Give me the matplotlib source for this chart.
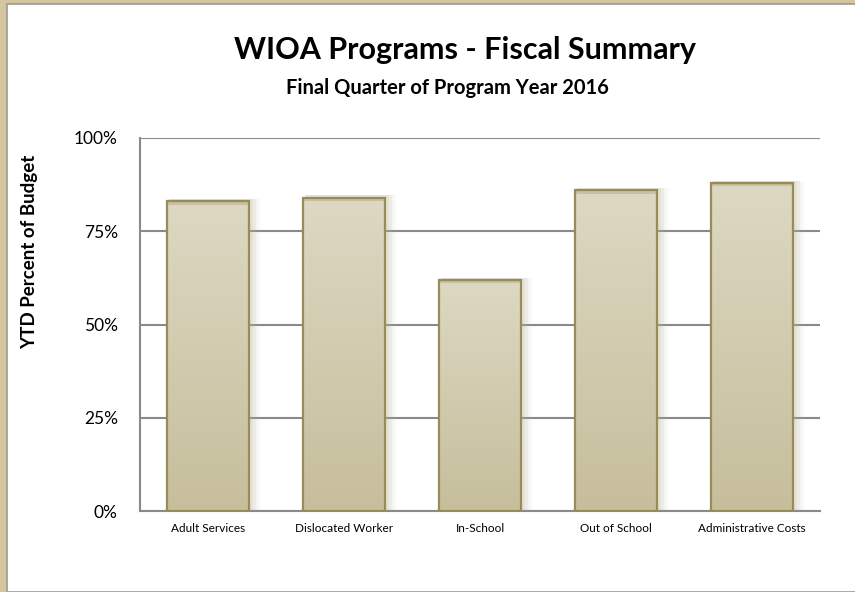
import numpy as np
import matplotlib
matplotlib.use('Agg')
import matplotlib.pyplot as plt
from matplotlib.patches import Rectangle
from matplotlib.colors import LinearSegmentedColormap

# chart data
programs = ['Adult Services', 'Dislocated Worker', 'In-School',
            'Out of School', 'Administrative Costs']
ytd_pct = [83, 84, 62, 86, 88]
yticks = [0, 25, 50, 75, 100]
ytick_labels = ['0%', '25%', '50%', '75%', '100%']

plt.rcParams['font.family'] = ['Lato', 'DejaVu Sans']

fig = plt.figure(figsize=(8.55, 5.92), dpi=100)
fig.patch.set_facecolor('#d3c59e')
# white page with grey edge inside the tan frame
W, H = 855, 592
fig.patches.append(Rectangle((7 / W, 0), 1, 1 - 4 / H, transform=fig.transFigure,
                             facecolor='white', edgecolor='#9a9a9a', linewidth=1.2,
                             zorder=-10))

ax = fig.add_axes([140 / W, 1 - 511 / H, 680 / W, 373 / H])
ax.set_facecolor('none')

x = np.arange(len(programs))
bars = ax.bar(x, ytd_pct, width=0.6, facecolor='none', edgecolor='#978c56',
              linewidth=1.6, zorder=4)

cmap = LinearSegmentedColormap.from_list('tan', ['#c6be9b', '#ddd8c3'])
grad = np.linspace(0, 1, 256).reshape(-1, 1)
for b in bars:
    x0, w, h = b.get_x(), b.get_width(), b.get_height()
    # soft shadow on the right
    for k, a in zip([0.02, 0.04, 0.06, 0.08], [0.18, 0.12, 0.08, 0.05]):
        ax.add_patch(Rectangle((x0 + 0.01, 0), w + k, h + 0.6, facecolor='#b9b39a',
                               edgecolor='none', alpha=a, zorder=2))
    im = ax.imshow(grad, extent=(x0, x0 + w, 0, h), origin='lower', cmap=cmap,
                   aspect='auto', zorder=3)
    im.set_clip_path(b)
    # darker band just under the top edge
    ax.add_patch(Rectangle((x0, h - 1.0), w, 1.0, facecolor='#c8c0a0',
                           edgecolor='none', zorder=3))

ax.set_xlim(-0.5, len(programs) - 0.5)
ax.set_ylim(0, 100)
ax.set_yticks(yticks)
ax.set_yticklabels(ytick_labels, fontsize=12.5)
ax.set_xticks(x)
ax.set_xticklabels(programs, fontsize=8.5)
ax.tick_params(axis='both', length=0)
ax.tick_params(axis='y', pad=16)
ax.tick_params(axis='x', pad=9)

ax.yaxis.grid(True, color='#8a8a8a', linewidth=1.5, zorder=1)
ax.set_axisbelow(True)
for s in ['top', 'right']:
    ax.spines[s].set_visible(False)
for s in ['left', 'bottom']:
    ax.spines[s].set_color('#8a8a8a')
    ax.spines[s].set_linewidth(1.5)

fig.text(30 / W, 1 - 252 / H, 'YTD Percent of Budget', rotation=90, fontsize=13.5,
         fontweight='bold', ha='center', va='center')
fig.text(465 / W, 1 - 50 / H, 'WIOA Programs - Fiscal Summary', fontsize=22,
         fontweight='bold', ha='center', va='center')
fig.text(447 / W, 1 - 88 / H, 'Final Quarter of Program Year 2016', fontsize=14.5,
         fontweight='bold', ha='center', va='center')

fig.savefig('out.png', dpi=100)
